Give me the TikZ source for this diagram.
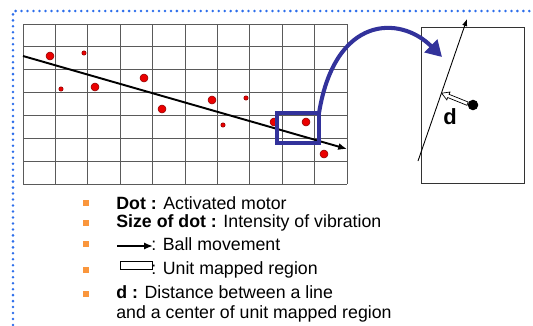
\documentclass[tikz,border=0pt]{standalone}
\usepackage{fontspec}
\setmainfont{Liberation Sans}
\usepackage{xcolor}
\usetikzlibrary{arrows.meta, positioning, shapes.arrows}
\definecolor{dotred}{RGB}{235,0,0}
\definecolor{regionblue}{RGB}{50,50,155}
\definecolor{framedot}{RGB}{45,110,235}
\definecolor{bulletorange}{RGB}{250,150,60}
\definecolor{gridgray}{RGB}{90,90,90}

\tikzset{
  motordot/.style={fill=dotred, draw=dotred!60!black, line width=0.3pt},
  unitbox/.style={draw=regionblue, line width=1.8pt, inner sep=0pt, outer sep=0pt,
    minimum width=0.84cm, minimum height=0.6cm},
  legendtext/.style={anchor=west, inner sep=0pt, font=\fontsize{10.1}{11.4}\selectfont},
  bulletbox/.style={fill=bulletorange, inner sep=0pt, minimum size=3.4pt}
}

\begin{document}
\begin{tikzpicture}[x=0.02cm, y=-0.02cm]
  \useasboundingbox (0,0) rectangle (533,325);
  % dotted frame
  \draw[framedot, line width=1.6pt, dash pattern=on 0pt off 3.4pt, line cap=round]
        (13,325) -- (13,11) -- (533,11);
  % grid
  \foreach \i in {0,...,10} {
    \draw[gridgray, line width=0.5pt] (23+\i*32.4,24) -- (23+\i*32.4,184);
  }
  \foreach \j in {0,...,7} {
    \draw[gridgray, line width=0.5pt] (23,24+\j*22.86) -- (347,24+\j*22.86);
  }
  % activated motors
  \foreach \x/\y/\r in {50/56/4, 84/53/2.2, 61/89/2.2, 95/87/4, 144/78/4, 162/109/4,
                        212/100/4, 246/98/2.2, 223/125/2.2, 274/122/4, 306/122/4, 324/154/4} {
    \fill[motordot] (\x,\y) circle (\r);
  }
  % ball movement
  \coordinate (ballstart) at (23,56);
  \coordinate (ballend) at (347,149);
  \draw[line width=1.1pt, -{Latex[length=5pt, width=4pt]}] (ballstart) -- (ballend);
  % unit mapped region and its enlargement
  \node[unitbox] (unit) at (298,128) {};
  \node[draw=black!80, line width=0.45pt, inner sep=0pt, outer sep=0pt,
        minimum width=2.06cm, minimum height=3.12cm] (zoom) at (472.5,105) {};
  \coordinate (zoomin) at (442,57);
  \draw[regionblue, line width=2.3pt, -{Triangle[length=9pt, width=10pt]}]
        (unit.north east) .. controls (335,15) and (400,15) .. (zoomin);
  % line and center in the enlarged region
  \coordinate (linelow) at (418,161);
  \coordinate (linehigh) at (467,19);
  \draw[line width=0.5pt, -{Latex[length=4pt, width=3pt]}] (linelow) -- (linehigh);
  \node[circle, fill, inner sep=0pt, minimum size=6pt] (center) at (473,105) {};
  \node[single arrow, draw, fill=white, line width=0.4pt, inner sep=0.8pt,
        single arrow head extend=1.4pt, single arrow tip angle=60,
        minimum height=0.56cm, rotate=158] (dist) at (456,99) {};
  \node[font=\fontsize{12.5}{14}\selectfont\bfseries] (dlabel) at (450,117) {d};
  % legend
  \foreach \y in {203,223,244,270,294} {
    \node[bulletbox] at (86,\y) {};
  }
  \node[legendtext] (dot) at (116,203) {\textbf{Dot :} Activated motor};
  \node[legendtext] (size) at (116,223) {\textbf{Size of dot :} Intensity of vibration};
  \coordinate (iconstart) at (117,246);
  \coordinate (iconend) at (153,246);
  \draw[line width=1.1pt, -{Latex[length=5pt, width=4pt]}] (iconstart) -- (iconend);
  \node[legendtext] (ball) at (151,244) {: Ball movement};
  \node[draw, line width=0.4pt, inner sep=0pt, minimum width=0.64cm, minimum height=0.17cm]
        (icon) at (136.5,265.5) {};
  \node[legendtext] (region) at (151,270) {: Unit mapped region};
  \node[legendtext, align=left, anchor=north west] (distance) at (116,285)
        {\textbf{d :} Distance between a line\\and a center of unit mapped region};
\end{tikzpicture}
\end{document}
